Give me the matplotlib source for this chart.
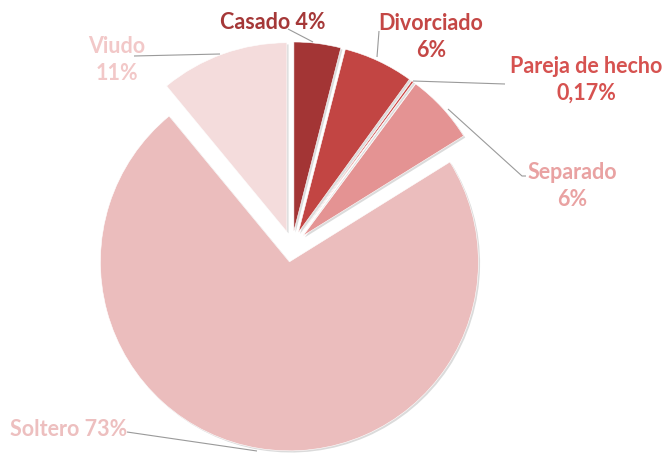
import matplotlib
matplotlib.use("Agg")
import matplotlib.pyplot as plt
import matplotlib.patheffects as pe

# ---- data ----
categories = ["Casado", "Divorciado", "Pareja de hecho", "Separado", "Soltero", "Viudo"]
values = [4, 6, 0.17, 6, 73, 11]
label_texts = ["Casado 4%", "Divorciado\n6%", "Pareja de hecho\n0,17%", "Separado\n6%", "Soltero 73%", "Viudo\n11%"]

# ---- style ----
slice_colors = ["#A33535", "#C24543", "#C9403E", "#E49393", "#EBBDBD", "#F4DCDC"]
text_colors = ["#A53838", "#C44745", "#D65250", "#E9A2A2", "#EDBFBF", "#F2C8C8"]
explode_frac = [0.08, 0.08, 0.08, 0.08, 0.085, 0.08]

W, H = 669, 456
fig = plt.figure(figsize=(W / 100, H / 100), dpi=100)
ax = fig.add_axes([0, 0, 1, 1])

def Y(y):
    return H - y

R = 189
cx, cy = 292, 247
wedges, _ = ax.pie(values, colors=slice_colors, startangle=90, counterclock=False,
                   explode=[e * R for e in explode_frac], radius=R, center=(cx, Y(cy)),
                   wedgeprops=dict(linewidth=0.4, edgecolor="white"))
for w in wedges:
    w.set_path_effects([pe.SimplePatchShadow(offset=(1.2, -1.2), shadow_rgbFace="#999999", alpha=0.35),
                        pe.Normal()])

# label positions (pixel coords, centre of text block)
label_pos = [(273, 22), (431, 37), (586, 80), (572, 186), (69, 430), (117, 60)]
for txt, (x, y), c in zip(label_texts, label_pos, text_colors):
    ax.text(x, Y(y), txt, ha="center", va="center", color=c, fontsize=15.5,
            fontweight="bold", family=["Lato", "DejaVu Sans"], linespacing=1.3)

# leader lines
leaders = [
    [(288, 30), (313, 43)],
    [(379, 32), (377, 58)],
    [(413, 82), (505, 85)],
    [(448, 110), (522, 177), (526, 177)],
    [(127, 433), (257, 452)],
    [(134, 57), (220, 55)],
]
for pts in leaders:
    xs = [p[0] for p in pts]
    ys = [Y(p[1]) for p in pts]
    ax.plot(xs, ys, color="#9a9a9a", lw=0.8, solid_capstyle="butt")

ax.set_xlim(0, W)
ax.set_ylim(0, H)
ax.set_aspect("equal", adjustable="box")
ax.axis("off")
fig.savefig("out.png", dpi=100)
